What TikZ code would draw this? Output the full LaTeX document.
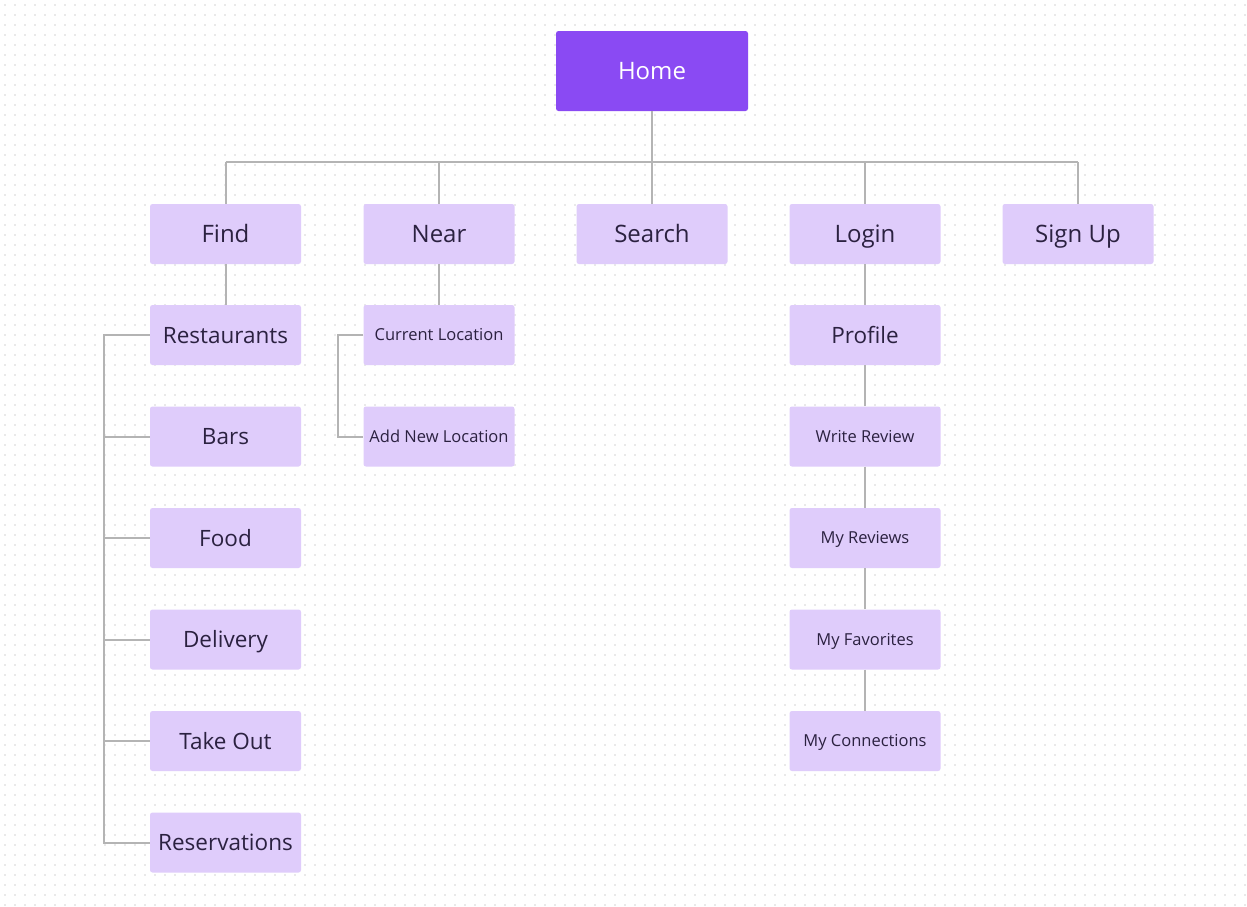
\documentclass[tikz,border=0pt]{standalone}
\usepackage{fontspec}
\setmainfont{Open Sans}
\definecolor{homefill}{HTML}{8A4AF3}
\definecolor{boxfill}{HTML}{DFCCFB}
\definecolor{boxtext}{HTML}{2B2140}
\definecolor{linec}{HTML}{B4B4B4}
\definecolor{dotc}{HTML}{E9E9E9}
\begin{document}
\begin{tikzpicture}[x=1pt,y=-1pt,
  homebox/.style={draw=none,fill=homefill,rounded corners=2.5pt,minimum width=192pt,minimum height=80pt,text=white,font=\fontsize{24}{28}\selectfont,inner sep=0pt,text height=17.1pt,text depth=0pt},
  bigbox/.style={draw=none,fill=boxfill,rounded corners=2.5pt,minimum width=151pt,minimum height=60pt,text=boxtext,font=\fontsize{24}{28}\selectfont,inner sep=0pt,text height=17.1pt,text depth=0pt},
  midbox/.style={bigbox,font=\fontsize{22.5}{26}\selectfont,text height=16.1pt},
  smallbox/.style={bigbox,font=\fontsize{16.5}{20}\selectfont,text height=11.8pt},
  conn/.style={draw=linec,line width=2pt}]
\useasboundingbox (0,0) rectangle (1247,906);
\fill[white] (0,0) rectangle (1247,906);
\foreach \i in {5,15,...,1245} {\fill[dotc] \foreach \j in {5,15,...,905} {(\i-0.8,\j-0.8) rectangle (\i+0.8,\j+0.8)};}
% nodes
\node[homebox] (home) at (652,71) {Home};
\node[bigbox] (find) at (225.5,234) {Find};
\node[bigbox] (near) at (439,234) {Near};
\node[bigbox] (search) at (652,234) {Search};
\node[bigbox] (login) at (865,234) {Login};
\node[bigbox] (signup) at (1078,234) {Sign Up};
\node[midbox] (rest) at (225.5,335) {Restaurants};
\node[midbox] (bars) at (225.5,436.5) {Bars};
\node[midbox] (food) at (225.5,538) {Food};
\node[midbox] (deliv) at (225.5,639.5) {Delivery};
\node[midbox] (take) at (225.5,741) {Take Out};
\node[midbox] (resv) at (225.5,842.5) {Reservations};
\node[smallbox] (cur) at (439,335) {Current Location};
\node[smallbox] (addl) at (439,436.5) {Add New Location};
\node[midbox] (prof) at (865,335) {Profile};
\node[smallbox] (wrev) at (865,436.5) {Write Review};
\node[smallbox] (myrev) at (865,538) {My Reviews};
\node[smallbox] (myfav) at (865,639.5) {My Favorites};
\node[smallbox] (mycon) at (865,741) {My Connections};
\coordinate (bus) at (652,162);
\coordinate (lbus) at (104,0);
\coordinate (nbus) at (338,0);
% connectors
\draw[conn] (home.south) -- (bus);
\foreach \n in {find,near,search,login,signup}
  \draw[conn] (\n.north) -- (\n.north |- bus);
\draw[conn] (find.north |- bus) -- (signup.north |- bus);
\draw[conn] (find.south) -- (rest.north);
\draw[conn] (near.south) -- (cur.north);
\draw[conn] (login.south) -- (prof.north);
\draw[conn] (prof.south) -- (wrev.north);
\draw[conn] (wrev.south) -- (myrev.north);
\draw[conn] (myrev.south) -- (myfav.north);
\draw[conn] (myfav.south) -- (mycon.north);
\draw[conn] (rest.west) -- (lbus |- rest.west) -- (lbus |- resv.west) -- (resv.west);
\foreach \n in {bars,food,deliv,take}
  \draw[conn] (lbus |- \n.west) -- (\n.west);
\draw[conn] (cur.west) -- (nbus |- cur.west) -- (nbus |- addl.west) -- (addl.west);
\end{tikzpicture}
\end{document}
